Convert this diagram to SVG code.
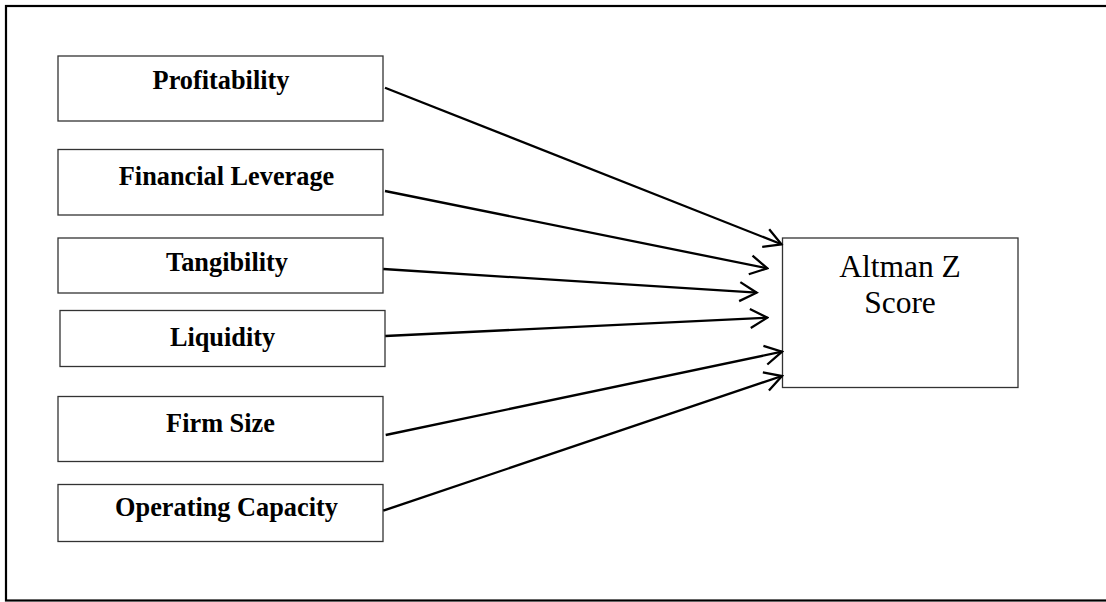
<svg xmlns="http://www.w3.org/2000/svg" width="1106" height="602" viewBox="0 0 1106 602">
<defs>
<style>
.box{fill:#fff;stroke:#333;stroke-width:1.3}
.lbl{font-family:"Liberation Serif","Times New Roman",serif;font-weight:bold;font-size:26.3px;fill:#000;text-anchor:middle}
.big{font-family:"Liberation Serif","Times New Roman",serif;font-size:31.5px;fill:#000;text-anchor:middle}
.conn{stroke:#000;stroke-width:2.3;fill:none}
</style>
<marker id="arr" viewBox="0 0 22 22" refX="20" refY="11" markerWidth="22" markerHeight="22" markerUnits="userSpaceOnUse" orient="auto">
<path d="M3,1.5 L20,11 L3,20.5" fill="none" stroke="#000" stroke-width="2.3"/>
</marker>
</defs>
<rect width="1106" height="602" fill="#fff"/>
<rect id="frame" x="6" y="6" width="1110" height="594.5" fill="none" stroke="#000" stroke-width="2.2"/>
<g id="profitability"><rect class="box" x="58" y="56" width="325" height="65"/><text class="lbl" x="221" y="89">Profitability</text></g>
<g id="financial-leverage"><rect class="box" x="58" y="149.5" width="325" height="65.5"/><text class="lbl" x="226.5" y="185">Financial Leverage</text></g>
<g id="tangibility"><rect class="box" x="58" y="238" width="325" height="55"/><text class="lbl" x="227" y="271">Tangibility</text></g>
<g id="liquidity"><rect class="box" x="60" y="310.5" width="325" height="56"/><text class="lbl" x="222.5" y="346">Liquidity</text></g>
<g id="firm-size"><rect class="box" x="58" y="396.5" width="325" height="65"/><text class="lbl" x="220.5" y="432">Firm Size</text></g>
<g id="operating-capacity"><rect class="box" x="58" y="484.5" width="325" height="57"/><text class="lbl" x="226.5" y="516">Operating Capacity</text></g>
<g id="altman"><rect class="box" x="782.5" y="238" width="235.5" height="149.5"/><text class="big" x="900" y="277">Altman Z</text><text class="big" x="900" y="313">Score</text></g>
<g id="connectors">
<line class="conn" x1="385" y1="87.7" x2="781.5" y2="244.3" marker-end="url(#arr)"/>
<line class="conn" x1="385" y1="191" x2="767.3" y2="268.3" marker-end="url(#arr)"/>
<line class="conn" x1="383.3" y1="269" x2="756.7" y2="292.7" marker-end="url(#arr)"/>
<line class="conn" x1="385.3" y1="336" x2="767.3" y2="317.7" marker-end="url(#arr)"/>
<line class="conn" x1="385.7" y1="435" x2="782" y2="351.7" marker-end="url(#arr)"/>
<line class="conn" x1="383.3" y1="510.7" x2="782" y2="376" marker-end="url(#arr)"/>
</g>
</svg>
